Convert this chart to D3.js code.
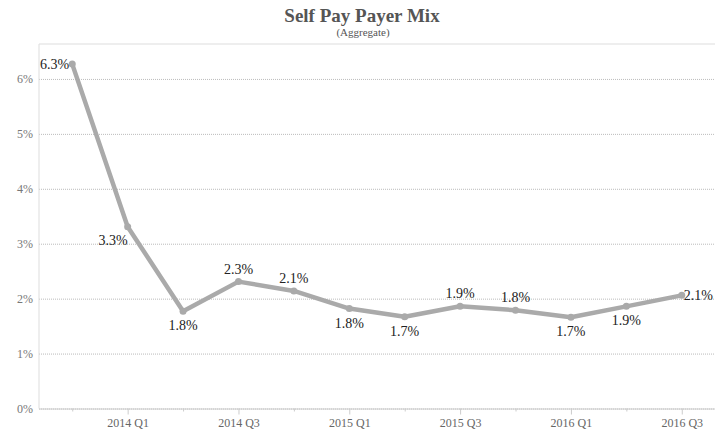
<!DOCTYPE html>
<html>
<head>
<meta charset="utf-8">
<script src="https://cdn.jsdelivr.net/npm/d3@7"></script>
<style>
  body { margin: 0; background: #fff; }
  svg { display: block; font-family: "Liberation Serif", "Times New Roman", serif; }
</style>
</head>
<body>
<svg width="715" height="432"></svg>
<script>
// quarters shown on the x axis (every quarter is a point)
const quarters = ['2013 Q4', '2014 Q1', '2014 Q2', '2014 Q3', '2014 Q4', '2015 Q1',
                  '2015 Q2', '2015 Q3', '2015 Q4', '2016 Q1', '2016 Q2', '2016 Q3'];
// self pay share, percent
const selfPay = [6.27, 3.31, 1.77, 2.31, 2.14, 1.82, 1.67, 1.86, 1.79, 1.66, 1.86, 2.06];
// where each value label sits relative to its point
const labelPos = ['left', 'leftBelow', 'below', 'above', 'above', 'below',
                  'below', 'above', 'above', 'below', 'below', 'right'];
const yTicks = [0, 1, 2, 3, 4, 5, 6];
const xLabelled = ['2014 Q1', '2014 Q3', '2015 Q1', '2015 Q3', '2016 Q1', '2016 Q3'];

const margin = {top: 44, right: 0, bottom: 23.5, left: 39},
      W = 715, H = 432,
      width = W - margin.left - margin.right,
      height = H - margin.top - margin.bottom;

const svg = d3.select('svg');

// ---------- title ----------
svg.append('text')
   .attr('x', 362).attr('y', 22)
   .attr('text-anchor', 'middle')
   .attr('font-size', 19).attr('font-weight', 'bold')
   .attr('fill', '#555')
   .text('Self Pay Payer Mix');
svg.append('text')
   .attr('x', 363).attr('y', 36)
   .attr('text-anchor', 'middle')
   .attr('font-size', 11)
   .attr('fill', '#555')
   .text('(Aggregate)');

const g = svg.append('g')
   .attr('transform', `translate(${margin.left},${margin.top})`);

// ---------- scales ----------
const x = d3.scalePoint()
   .domain(quarters)
   .range([0, width])
   .padding(0.6);

const y = d3.scaleLinear()
   .domain([0, 6.636])
   .range([height, 0]);

// ---------- grid + y axis ----------
const yAxis = g.append('g')
   .call(d3.axisLeft(y).tickValues(yTicks).tickSize(-width).tickFormat(d => d + '%'));
yAxis.select('.domain').remove();
yAxis.selectAll('.tick line')
   .attr('stroke', '#bbb')
   .attr('stroke-dasharray', '1,1');
yAxis.selectAll('.tick text')
   .attr('x', -6)
   .attr('font-size', 12)
   .attr('font-family', '"Liberation Serif", serif')
   .attr('fill', '#777');

// frame lines
g.append('line')
   .attr('x1', 0).attr('x2', width).attr('y1', 0).attr('y2', 0)
   .attr('stroke', '#ddd');
g.append('line')
   .attr('x1', 0).attr('x2', 0).attr('y1', 0).attr('y2', height)
   .attr('stroke', '#ddd');

// ---------- x axis ----------
const xAxis = g.append('g')
   .attr('transform', `translate(0,${height})`)
   .call(d3.axisBottom(x).tickSize(6).tickPadding(4)
           .tickFormat(d => xLabelled.includes(d) ? d : ''));
xAxis.select('.domain')
   .attr('stroke', '#ccc')
   .attr('d', `M0,0.5H${width}`);
xAxis.selectAll('.tick line')
   .attr('stroke', '#ccc')
   .attr('y2', d => xLabelled.includes(d) ? 6 : 3);
xAxis.selectAll('.tick text')
   .attr('font-size', 12)
   .attr('font-family', '"Liberation Serif", serif')
   .attr('fill', '#666');

// ---------- line ----------
const pts = quarters.map((q, i) => ({q, v: selfPay[i], pos: labelPos[i]}));

const line = d3.line()
   .x(d => x(d.q))
   .y(d => y(d.v));

g.append('path')
   .datum(pts)
   .attr('fill', 'none')
   .attr('stroke', '#aaa')
   .attr('stroke-width', 4.5)
   .attr('stroke-linejoin', 'round')
   .attr('stroke-linecap', 'round')
   .attr('d', line);

g.selectAll('circle.pt')
   .data(pts)
   .join('circle')
   .attr('class', 'pt')
   .attr('cx', d => x(d.q))
   .attr('cy', d => y(d.v))
   .attr('r', 3.5)
   .attr('fill', '#aaa');

// ---------- value labels ----------
const fmt = d => d.v.toFixed(1) + '%';
g.selectAll('text.lbl')
   .data(pts)
   .join('text')
   .attr('class', 'lbl')
   .attr('font-size', 14)
   .attr('fill', '#222')
   .attr('text-anchor', d => d.pos === 'left' || d.pos === 'leftBelow' ? 'end'
                            : d.pos === 'right' ? 'start' : 'middle')
   .attr('x', d => x(d.q) + (d.pos === 'left' ? -3 : d.pos === 'right' ? 2 : 0))
   .attr('y', d => y(d.v) + (d.pos === 'above' ? -8 : d.pos === 'below' ? 19
                           : d.pos === 'leftBelow' ? 18 : 5))
   .text(fmt);
</script>
</body>
</html>
